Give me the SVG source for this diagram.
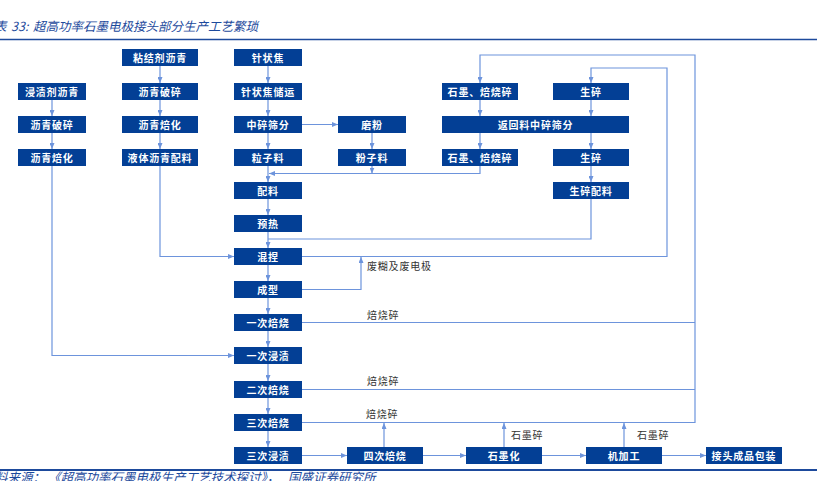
<svg xmlns="http://www.w3.org/2000/svg" width="817" height="481" viewBox="0 0 817 481">
<style>
.n rect{fill:#033f95;}
.n text{fill:#fff;font-family:"Noto Sans CJK SC","Liberation Serif",serif;font-size:10px;font-weight:bold;text-anchor:middle;letter-spacing:0.8px;}
.c path{fill:none;stroke:#6d94dc;stroke-width:1.2;}
.c path.a{marker-end:url(#ah);}
.lb{fill:#333;font-family:"Noto Sans CJK SC","Liberation Serif",serif;font-size:10px;letter-spacing:0.8px;}
.tt{fill:#1d4a9c;font-family:"Noto Sans CJK SC","Liberation Sans",sans-serif;font-size:12.5px;font-style:italic;}
</style>
<defs>
<marker id="ah" markerWidth="6" markerHeight="5" refX="6" refY="2.5" orient="auto" markerUnits="userSpaceOnUse">
<path d="M0,0 L6,2.5 L0,5 z" fill="#6d94dc"/>
</marker>
</defs>
<rect width="817" height="481" fill="#fff"/>
<text class="tt" y="31"><tspan x="-6">表</tspan><tspan x="11">33:</tspan><tspan x="33">超高功率石墨电极接头部分生产工艺繁琐</tspan></text>
<line x1="0" y1="39.5" x2="817" y2="39.5" stroke="#1d4a9c" stroke-width="1.5"/>
<line x1="0" y1="470" x2="817" y2="470" stroke="#1d4a9c" stroke-width="2"/>
<text class="tt" y="482" font-size="12"><tspan x="-5">料来源：</tspan><tspan x="48">《超高功率石墨电极生产工艺技术探讨》，</tspan><tspan x="288">国盛证券研究所</tspan></text>

<g class="c" id="connectors">
<path class="a" d="M52 100V116"/>
<path class="a" d="M52 133V149"/>
<path class="a" d="M52 166V355.5H234"/>
<path class="a" d="M160 66V83"/>
<path class="a" d="M160 100V116"/>
<path class="a" d="M160 133V149"/>
<path class="a" d="M160 166V256.5H234"/>
<path class="a" d="M268 66V83"/>
<path class="a" d="M268 100V116"/>
<path class="a" d="M268 133V149"/>
<path class="a" d="M268 166V182"/>
<path class="a" d="M268 199V215"/>
<path class="a" d="M268 232V248"/>
<path class="a" d="M268 265V281"/>
<path class="a" d="M268 298V314"/>
<path class="a" d="M268 331V347"/>
<path class="a" d="M268 364V381"/>
<path class="a" d="M268 398V414"/>
<path class="a" d="M268 431V447"/>
<path class="a" d="M302 124.5H338"/>
<path class="a" d="M372 133V149"/>
<path class="a" d="M372 166V173.5"/>
<path class="a" d="M480 166V173.5H269"/>
<path d="M591 199V239H268"/>
<path class="a" d="M302 256.5H667V68H591V83"/>
<path class="a" d="M302 289.5H361V257"/>
<path d="M302 322.5H695"/>
<path d="M302 389.5H695"/>
<path class="a" d="M302 422.5H695V55H480V83"/>
<path class="a" d="M480 100V116"/>
<path class="a" d="M591 100V116"/>
<path class="a" d="M480 133V149"/>
<path class="a" d="M591 133V149"/>
<path class="a" d="M591 166V182"/>
<path class="a" d="M384 447V423"/>
<path class="a" d="M504 447V423"/>
<path class="a" d="M624 447V423"/>
<path class="a" d="M302 455.5H347"/>
<path class="a" d="M422 455.5H466"/>
<path class="a" d="M542 455.5H586"/>
<path class="a" d="M662 455.5H706"/>
</g>

<text class="lb" x="367" y="270">废糊及废电极</text>
<text class="lb" x="367" y="319">焙烧碎</text>
<text class="lb" x="367" y="384.5">焙烧碎</text>
<text class="lb" x="366" y="418">焙烧碎</text>
<text class="lb" x="511" y="439">石墨碎</text>
<text class="lb" x="637" y="439">石墨碎</text>

<g class="n" id="n1"><rect x="18" y="83" width="68" height="17"/><text x="52" y="95.5">浸渍剂沥青</text></g>
<g class="n" id="n2"><rect x="18" y="116" width="68" height="17"/><text x="52" y="128.5">沥青破碎</text></g>
<g class="n" id="n3"><rect x="18" y="149" width="68" height="17"/><text x="52" y="161.5">沥青焙化</text></g>

<g class="n" id="n4"><rect x="122" y="49" width="76" height="17"/><text x="160" y="61.5">粘结剂沥青</text></g>
<g class="n" id="n5"><rect x="122" y="83" width="76" height="17"/><text x="160" y="95.5">沥青破碎</text></g>
<g class="n" id="n6"><rect x="122" y="116" width="76" height="17"/><text x="160" y="128.5">沥青焙化</text></g>
<g class="n" id="n7"><rect x="122" y="149" width="76" height="17"/><text x="160" y="161.5">液体沥青配料</text></g>

<g class="n" id="n8"><rect x="234" y="49" width="68" height="17"/><text x="268" y="61.5">针状焦</text></g>
<g class="n" id="n9"><rect x="234" y="83" width="68" height="17"/><text x="268" y="95.5">针状焦储运</text></g>
<g class="n" id="n10"><rect x="234" y="116" width="68" height="17"/><text x="268" y="128.5">中碎筛分</text></g>
<g class="n" id="n11"><rect x="234" y="149" width="68" height="17"/><text x="268" y="161.5">粒子料</text></g>
<g class="n" id="n12"><rect x="234" y="182" width="68" height="17"/><text x="268" y="194.5">配料</text></g>
<g class="n" id="n13"><rect x="234" y="215" width="68" height="17"/><text x="268" y="227.5">预热</text></g>
<g class="n" id="n14"><rect x="234" y="248" width="68" height="17"/><text x="268" y="260.5">混捏</text></g>
<g class="n" id="n15"><rect x="234" y="281" width="68" height="17"/><text x="268" y="293.5">成型</text></g>
<g class="n" id="n16"><rect x="234" y="314" width="68" height="17"/><text x="268" y="326.5">一次焙烧</text></g>
<g class="n" id="n17"><rect x="234" y="347" width="68" height="17"/><text x="268" y="359.5">一次浸渍</text></g>
<g class="n" id="n18"><rect x="234" y="381" width="68" height="17"/><text x="268" y="393.5">二次焙烧</text></g>
<g class="n" id="n19"><rect x="234" y="414" width="68" height="17"/><text x="268" y="426.5">三次焙烧</text></g>
<g class="n" id="n20"><rect x="234" y="447" width="68" height="17"/><text x="268" y="459.5">三次浸渍</text></g>

<g class="n" id="n21"><rect x="338" y="116" width="68" height="17"/><text x="372" y="128.5">磨粉</text></g>
<g class="n" id="n22"><rect x="338" y="149" width="68" height="17"/><text x="372" y="161.5">粉子料</text></g>

<g class="n" id="n23"><rect x="442" y="83" width="76" height="17"/><text x="480" y="95.5">石墨、焙烧碎</text></g>
<g class="n" id="n24"><rect x="553" y="83" width="76" height="17"/><text x="591" y="95.5">生碎</text></g>
<g class="n" id="n25"><rect x="442" y="116" width="187" height="17"/><text x="535.5" y="128.5">返回料中碎筛分</text></g>
<g class="n" id="n26"><rect x="442" y="149" width="76" height="17"/><text x="480" y="161.5">石墨、焙烧碎</text></g>
<g class="n" id="n27"><rect x="553" y="149" width="76" height="17"/><text x="591" y="161.5">生碎</text></g>
<g class="n" id="n28"><rect x="553" y="182" width="76" height="17"/><text x="591" y="194.5">生碎配料</text></g>

<g class="n" id="n29"><rect x="347" y="447" width="76" height="17"/><text x="385" y="459.5">四次焙烧</text></g>
<g class="n" id="n30"><rect x="466" y="447" width="76" height="17"/><text x="504" y="459.5">石墨化</text></g>
<g class="n" id="n31"><rect x="586" y="447" width="76" height="17"/><text x="624" y="459.5">机加工</text></g>
<g class="n" id="n32"><rect x="706" y="447" width="76" height="17"/><text x="744" y="459.5">接头成品包装</text></g>
</svg>
